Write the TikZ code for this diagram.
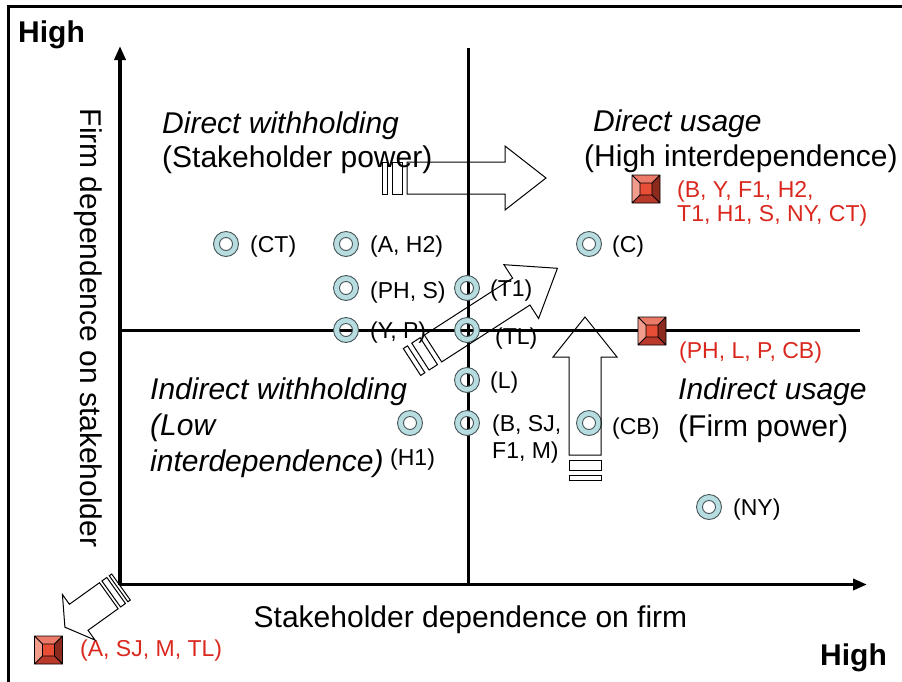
\documentclass[tikz,border=0pt]{standalone}
\usepackage{fontspec}
\setmainfont{Liberation Sans}
\usetikzlibrary{arrows.meta}

\definecolor{ringfill}{RGB}{183,221,224}
\definecolor{ringline}{RGB}{70,84,88}
\definecolor{labelred}{RGB}{218,40,30}
\definecolor{bvcenter}{RGB}{232,78,54}
\definecolor{bvtop}{RGB}{236,122,104}
\definecolor{bvleft}{RGB}{242,156,140}
\definecolor{bvright}{RGB}{140,42,30}
\definecolor{bvbottom}{RGB}{185,58,42}

\tikzset{
  axisline/.style={line width=3.5pt},
  axisarrow/.style={axisline,-{Triangle[length=14pt,width=11pt]}},
  bigtext/.style={font=\fontsize{30}{36}\selectfont, inner sep=0pt, anchor=base west},
  bigit/.style={bigtext, font=\fontsize{30}{36}\selectfont\itshape},
  bigbold/.style={bigtext, font=\fontsize{30}{36}\selectfont\bfseries},
  smalltext/.style={font=\fontsize{23}{27}\selectfont, inner sep=0pt, anchor=base west},
  redtext/.style={smalltext, text=labelred},
  outline/.style={draw=black, line width=1pt},
}

% ring marker with a see-through hole: name, x, y
\newcommand{\ringmark}[3]{%
  \fill[ringfill, even odd rule] (#2,#3) circle (12.5) (#2,#3) circle (6.5);
  \draw[ringline, line width=0.9pt] (#2,#3) circle (12.5) (#2,#3) circle (6.5);
  \coordinate (#1) at (#2,#3);}

% bevelled red square: name, x, y
\newcommand{\bevelmark}[3]{%
  \begin{scope}[shift={(#2,#3)}]
    \fill[bvtop] (-14,-14) -- (14,-14) -- (6,-6) -- (-6,-6) -- cycle;
    \fill[bvbottom] (-14,14) -- (14,14) -- (6,6) -- (-6,6) -- cycle;
    \fill[bvleft] (-14,-14) -- (-6,-6) -- (-6,6) -- (-14,14) -- cycle;
    \fill[bvright] (14,-14) -- (6,-6) -- (6,6) -- (14,14) -- cycle;
    \fill[bvcenter] (-6,-6) rectangle (6,6);
    \draw[line width=0.8pt] (-14,-14) rectangle (14,14) (-6,-6) rectangle (6,6)
      (-14,-14) -- (-6,-6) (14,-14) -- (6,-6) (14,14) -- (6,6) (-14,14) -- (-6,6);
  \end{scope}
  \coordinate (#1) at (#2,#3);}

% outlined striped block arrow: x, y (tail), angle, length, head length, stripe scale, head half-width
\newcommand{\stripedarrow}[7]{%
  \begin{scope}[shift={(#1,#2)}, rotate=#3]
    \draw[outline] (0,-16) rectangle (5*#6,16);
    \draw[outline] (10*#6,-16) rectangle (20*#6,16);
    \draw[outline] (25*#6,-16) -- (#4-#5,-16) -- (#4-#5,-#7) -- (#4,0)
      -- (#4-#5,#7) -- (#4-#5,16) -- (25*#6,16) -- cycle;
  \end{scope}}

\begin{document}
\begin{tikzpicture}[x=1pt, y=-1pt]
  \useasboundingbox (0,0) rectangle (902,681);
  \clip (0,0) rectangle (902,681);

  % frame
  \draw[line width=3pt] (8.5,690) -- (8.5,6.5) -- (910,6.5);

  % axes and quadrant dividers
  \coordinate (origin) at (120,584.5);
  \coordinate (ytip) at (120,46);
  \coordinate (xtip) at (867,584.5);
  \draw[axisarrow] (origin) -- (ytip);
  \draw[axisarrow] (origin) -- (xtip);
  \coordinate (vtop) at (468,48);
  \coordinate (vbot) at (468,585);
  \coordinate (hleft) at (120,330);
  \coordinate (hright) at (860,330);
  \draw[line width=3pt] (vtop) -- (vbot);
  \draw[line width=3pt] (hleft) -- (hright);

  % axis titles
  \node[bigbold] (highy) at (18,42) {High};
  \node[bigbold] (highx) at (820,665) {High};
  \node[font=\fontsize{30}{36}\selectfont, inner sep=0pt, rotate=-90] (ylabel) at (88,328) {Firm dependence on stakeholder};
  \node[font=\fontsize{30}{36}\selectfont, inner sep=0pt, anchor=base] (xlabel) at (470.5,627) {Stakeholder dependence on firm};

  % quadrant titles
  \node[bigit] (dw1) at (162,133) {Direct withholding};
  \node[bigtext] (dw2) at (162,167) {(Stakeholder power)};
  \node[bigit] (du1) at (593,131) {Direct usage};
  \node[bigtext] (du2) at (584,166) {(High interdependence)};
  \node[bigit] (iw1) at (150,399) {Indirect withholding};
  \node[bigit] (iw2) at (150,435) {(Low};
  \node[bigit] (iw3) at (150,471) {interdependence)};
  \node[bigit] (iu1) at (678,399) {Indirect usage};
  \node[bigtext] (iu2) at (678,436) {(Firm power)};

  % ring markers and their labels
  \ringmark{mct}{226}{244}
  \ringmark{mah}{346}{244}
  \ringmark{mc}{589}{244}
  \ringmark{mphs}{346}{288}
  \ringmark{mt1}{467}{288}
  \ringmark{myp}{346}{330}
  \ringmark{mtl}{467}{330}
  \ringmark{ml}{467}{380}
  \ringmark{mbsj}{467}{423}
  \ringmark{mh1}{410}{423}
  \ringmark{mcb}{589}{423}
  \ringmark{mny}{709}{507}

  \node[smalltext] (lct) at (250,252) {(CT)};
  \node[smalltext] (lah) at (370,252) {(A, H2)};
  \node[smalltext] (lc) at (612,252) {(C)};
  \node[smalltext] (lphs) at (370,298) {(PH, S)};
  \node[smalltext] (lt1) at (490,296) {(T1)};
  \node[smalltext] (lyp) at (370,338) {(Y, P)};
  \node[smalltext] (ltl) at (495,344) {(TL)};
  \node[smalltext] (ll) at (490,388) {(L)};
  \node[smalltext] (lbsj1) at (492,431) {(B, SJ,};
  \node[smalltext] (lbsj2) at (492,458) {F1, M)};
  \node[smalltext] (lh1) at (390,465) {(H1)};
  \node[smalltext] (lcb) at (612,434) {(CB)};
  \node[smalltext] (lny) at (733,515) {(NY)};

  % bevelled squares and their labels
  \bevelmark{sqdu}{646}{189}
  \bevelmark{sqiu}{652}{331}
  \bevelmark{sqout}{48.5}{650}
  \node[redtext] (rdu1) at (677,197) {(B, Y, F1, H2,};
  \node[redtext] (rdu2) at (677,221) {T1, H1, S, NY, CT)};
  \node[redtext] (riu) at (679,358) {(PH, L, P, CB)};
  \node[redtext] (rout) at (80,656) {(A, SJ, M, TL)};

  % movement arrows
  \stripedarrow{382}{178}{0}{164}{41}{1}{32}
  \stripedarrow{585}{480}{90}{163}{40}{1}{32}
  \stripedarrow{412}{362}{32.8}{173}{43}{1}{32}
  \stripedarrow{121}{587}{215.6}{69}{17}{0.6}{28}
\end{tikzpicture}
\end{document}
